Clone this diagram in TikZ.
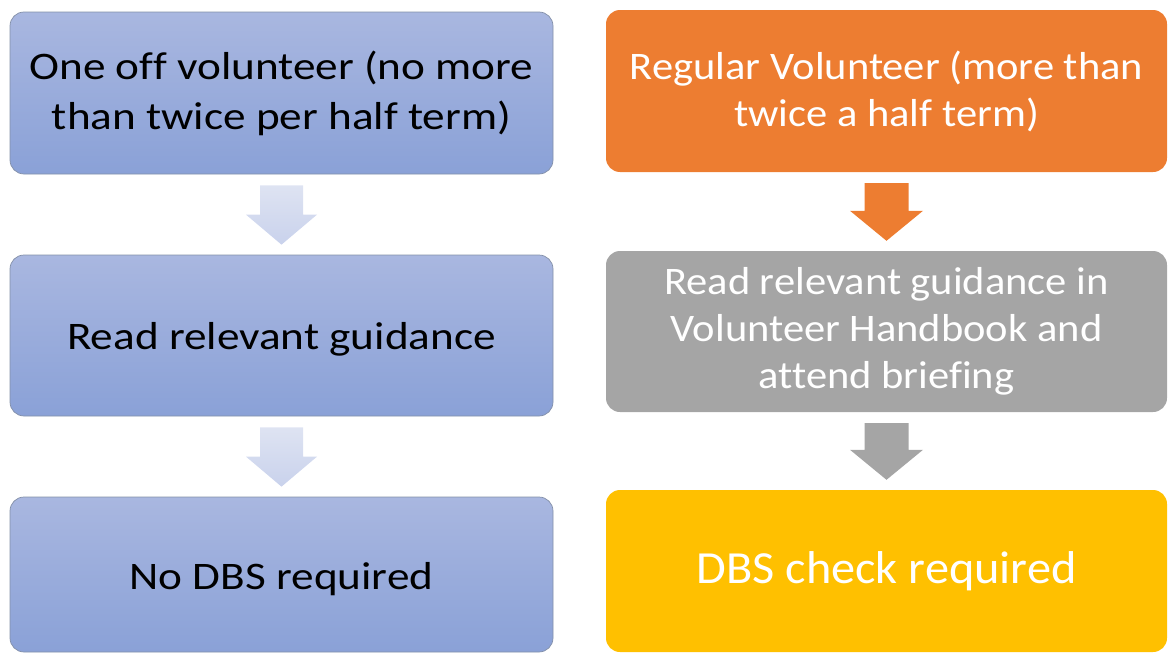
\documentclass[tikz,border=0pt]{standalone}
\usepackage{fontspec}
\setmainfont{Carlito}[Ligatures=NoCommon]
\newfontfamily\leftfont{Carlito}[FakeStretch=1.16,Ligatures=NoCommon]
\newfontfamily\rightfont{Carlito}[FakeStretch=1.09,Ligatures=NoCommon]
\newfontfamily\bigfont{Carlito}[FakeStretch=1.05,Ligatures=NoCommon]
\usetikzlibrary{calc}
\definecolor{bluetop}{HTML}{A9B7E0}
\definecolor{bluebot}{HTML}{8AA1D7}
\definecolor{blueedge}{HTML}{8390A8}
\definecolor{arrtop}{HTML}{DEE3F2}
\definecolor{arrbot}{HTML}{C9D2EC}
\definecolor{orange}{HTML}{ED7D31}
\definecolor{grey}{HTML}{A5A5A5}
\definecolor{gold}{HTML}{FFC000}
\newcommand\lowertext[2]{\raisebox{-#1}[\height][\depth]{#2}}
\newcommand\blockarr[5]{% from, to, style, shaft half, head half
  \path[#3] let \p1=(#1.south), \p2=(#2.north) in
    (\x1-#4,\y1-11pt) -- (\x1+#4,\y1-11pt) -- (\x1+#4,\y2+40pt) -- (\x1+#5,\y2+40pt)
    -- (\x1,\y2+10pt) -- (\x1-#5,\y2+40pt) -- (\x1-#4,\y2+40pt) -- cycle;}
\begin{document}
\begin{tikzpicture}[x=1pt,y=1pt,
  box/.style={rounded corners=14pt, inner sep=0pt, align=center, minimum height=162pt},
  bluebox/.style={box, top color=bluetop, bottom color=bluebot, draw=blueedge, line width=0.7pt,
    minimum width=543pt, text=black, font=\leftfont\fontsize{39}{50}\selectfont},
  rbox/.style={box, minimum width=561pt, text=white, font=\rightfont\fontsize{39}{47}\selectfont},
  bluearr/.style={top color=arrtop, bottom color=arrbot},
]
\useasboundingbox (0,0) rectangle (1168,-653);
\node[bluebox] (L1) at (281.5,-93) {One off volunteer (no more\\than twice per half term)};
\node[bluebox, minimum height=161pt] (L2) at (281.5,-335.5) {\lowertext{4pt}{Read relevant guidance}};
\node[bluebox, minimum height=155pt] (L3) at (281.5,-574.5) {\lowertext{5pt}{No DBS required}};
\node[rbox, fill=orange] (R1) at (886.5,-91) {Regular Volunteer (more than\\twice a half term)};
\node[rbox, fill=grey, minimum height=161pt] (R2) at (886.5,-331.5) {Read relevant guidance in\\Volunteer Handbook and\\attend briefing};
\node[rbox, fill=gold, font=\bigfont\fontsize{46}{55}\selectfont] (R3) at (886.5,-571) {DBS check required};
\blockarr{L1}{L2}{bluearr}{21.5pt}{35.5pt}
\blockarr{L2}{L3}{bluearr}{21.5pt}{35.5pt}
\blockarr{R1}{R2}{fill=orange}{22pt}{36.5pt}
\blockarr{R2}{R3}{fill=grey}{22pt}{36.5pt}
\end{tikzpicture}
\end{document}
